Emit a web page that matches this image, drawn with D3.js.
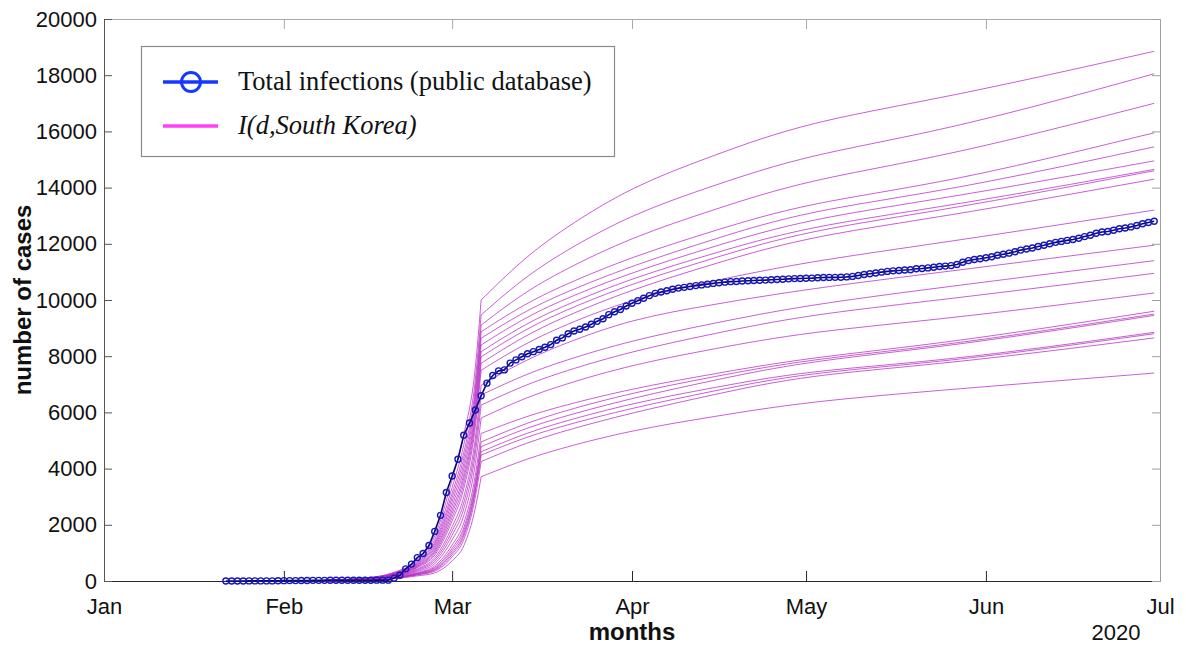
<!DOCTYPE html>
<html>
<head>
<meta charset="utf-8">
<script src="https://cdn.jsdelivr.net/npm/d3@7"></script>
<style>
  html, body { margin: 0; padding: 0; background: #fff; }
  svg { display: block; }
</style>
</head>
<body>
<svg id="chart" width="1186" height="645"></svg>
<script>
// Daily cumulative confirmed cases, South Korea, starting 2020-01-22
const casesStart = "2020-01-22";
const totalInfections = [
  1, 1, 2, 2, 3, 4, 4, 4, 4, 11,
  12, 15, 15, 16, 19, 23, 24, 24, 25, 27, 28, 28, 28, 28, 28, 29, 30, 31, 31,
  104, 204, 433, 602, 833, 977, 1261, 1766, 2337, 3150,
  3736, 4335, 5186, 5621, 6088, 6593, 7041, 7314, 7478, 7513, 7755, 7869, 7979, 8086, 8162,
  8236, 8320, 8413, 8565, 8652, 8799, 8897, 8961, 9037, 9137, 9241, 9332, 9478, 9583, 9661, 9786,
  9887, 9976, 10062, 10156, 10237, 10284, 10331, 10384, 10423, 10450, 10480, 10512, 10537, 10564, 10591,
  10613, 10635, 10653, 10661, 10674, 10683, 10694, 10702, 10708, 10718, 10728, 10738, 10752, 10761, 10765,
  10774, 10780, 10793, 10801, 10804, 10806, 10810, 10822, 10840, 10874, 10909, 10936, 10962, 10991, 11018,
  11037, 11050, 11065, 11078, 11110, 11122, 11142, 11165, 11190, 11206, 11225, 11265, 11344, 11402, 11441, 11468,
  11503, 11541, 11590, 11629, 11668, 11719, 11776, 11814, 11852, 11902, 11947, 12003, 12051, 12085, 12121,
  12155, 12198, 12257, 12306, 12373, 12421, 12438, 12484, 12535, 12563, 12602, 12653, 12715, 12757, 12800
];

// Model trajectories I(d, South Korea): sample dates and one value list per run
const modelDates = [
  "2020-02-08", "2020-02-15", "2020-02-20", "2020-02-24", "2020-02-27", "2020-03-01",
  "2020-03-03", "2020-03-05", "2020-03-06", "2020-03-13", "2020-03-20", "2020-04-01",
  "2020-04-15", "2020-05-01", "2020-05-26", "2020-06-30"
];
const breakDate = "2020-03-06";
const modelRuns = [
  [30, 110, 310, 750, 1600, 3600, 5200, 7600, 10000, 11420, 12510, 14050, 15140, 16330, 17230, 18850],
  [28, 103, 289, 698, 1476, 3331, 4838, 7169, 9470, 10730, 11700, 13060, 14070, 15160, 16060, 18050],
  [26, 97, 274, 660, 1383, 3128, 4570, 6869, 9110, 10210, 11050, 12240, 13210, 14270, 15140, 17000],
  [25, 94, 263, 631, 1310, 2972, 4369, 6661, 8870, 9800, 10520, 11540, 12460, 13450, 14190, 15950],
  [24, 90, 252, 603, 1241, 2824, 4177, 6463, 8640, 9540, 10240, 11220, 12160, 13170, 13900, 15450],
  [23, 86, 242, 575, 1172, 2675, 3984, 6258, 8400, 9310, 10010, 10990, 11900, 12880, 13650, 14950],
  [22, 82, 231, 548, 1105, 2531, 3795, 6055, 8160, 9080, 9780, 10780, 11660, 12610, 13350, 14650],
  [21, 79, 222, 526, 1048, 2409, 3639, 5897, 7980, 8890, 9600, 10590, 11490, 12470, 13230, 14600],
  [20, 76, 212, 501, 986, 2275, 3463, 5704, 7750, 8670, 9380, 10380, 11280, 12250, 13000, 14300],
  [19, 72, 202, 475, 923, 2140, 3283, 5498, 7500, 8390, 9080, 10050, 10680, 11360, 12080, 13200],
  [17, 66, 185, 432, 829, 1931, 2987, 5088, 6970, 7800, 8430, 9330, 9840, 10390, 11030, 11950],
  [16, 62, 172, 402, 761, 1779, 2776, 4813, 6620, 7300, 7830, 8570, 9170, 9820, 10490, 11400],
  [15, 58, 160, 372, 694, 1630, 2568, 4532, 6260, 6930, 7450, 8180, 8800, 9470, 10040, 10950],
  [14, 52, 146, 337, 619, 1462, 2326, 4182, 5800, 6470, 6980, 7700, 8260, 8860, 9340, 10250],
  [12, 47, 130, 298, 539, 1280, 2057, 3770, 5250, 5810, 6240, 6850, 7370, 7940, 8480, 9600],
  [11, 43, 120, 275, 488, 1166, 1895, 3539, 4950, 5560, 6040, 6700, 7270, 7880, 8400, 9500],
  [11, 41, 114, 259, 451, 1086, 1786, 3403, 4780, 5390, 5850, 6510, 7140, 7820, 8350, 9450],
  [10, 39, 107, 243, 415, 1007, 1677, 3261, 4600, 5210, 5670, 6330, 6880, 7480, 7850, 8850],
  [9, 37, 103, 231, 386, 943, 1592, 3163, 4480, 5070, 5520, 6160, 6760, 7420, 7800, 8800],
  [9, 35, 95, 214, 349, 860, 1471, 2988, 4250, 4860, 5330, 5990, 6630, 7330, 7740, 8650],
  [7, 30, 82, 182, 289, 720, 1250, 2597, 3710, 4290, 4740, 5370, 5850, 6380, 6820, 7400]
];

const yTicks = [0, 2000, 4000, 6000, 8000, 10000, 12000, 14000, 16000, 18000, 20000];
const monthTicks = ["2020-01-01", "2020-02-01", "2020-03-01", "2020-04-01", "2020-05-01", "2020-06-01", "2020-07-01"];
const legendLabels = ["Total infections (public database)", "I(d,South Korea)"];

const parse = d3.timeParse("%Y-%m-%d");
const svg = d3.select("#chart");
const plot = { left: 104, right: 1160, top: 19, bottom: 581 };

const x = d3.scaleTime()
  .domain([parse("2020-01-01"), parse("2020-07-01")])
  .range([plot.left, plot.right]);
const y = d3.scaleLinear()
  .domain([0, 20000])
  .range([plot.bottom, plot.top]);

const sansFont = "'Liberation Sans', Arial, Helvetica, sans-serif";
const serifFont = "'Liberation Serif', 'Times New Roman', serif";

// Axes frame: bottom and left carry labels, top and right only mirror the ticks
const monthDates = monthTicks.map(parse);

const gBottom = svg.append("g")
  .attr("transform", `translate(0,${plot.bottom})`)
  .call(d3.axisBottom(x).tickValues(monthDates).tickFormat(d3.timeFormat("%b"))
    .tickSizeInner(-10).tickSizeOuter(0).tickPadding(17));
gBottom.select(".domain").attr("stroke", "#2a2a2a");
gBottom.selectAll(".tick line").attr("stroke", "#2a2a2a");

const gTop = svg.append("g")
  .attr("transform", `translate(0,${plot.top})`)
  .call(d3.axisTop(x).tickValues(monthDates).tickFormat("")
    .tickSizeInner(-10).tickSizeOuter(0));
gTop.select(".domain").attr("stroke", "#a8a8a8");
gTop.selectAll(".tick line").attr("stroke", "#a8a8a8");

const gLeft = svg.append("g")
  .attr("transform", `translate(${plot.left},0)`)
  .call(d3.axisLeft(y).tickValues(yTicks).tickFormat(d3.format("d"))
    .tickSizeInner(-8).tickSizeOuter(0).tickPadding(7));
gLeft.select(".domain").attr("stroke", "#555");
gLeft.selectAll(".tick line").attr("stroke", "#555");

const gRight = svg.append("g")
  .attr("transform", `translate(${plot.right},0)`)
  .call(d3.axisRight(y).tickValues(yTicks).tickFormat("")
    .tickSizeInner(-8).tickSizeOuter(0));
gRight.select(".domain").attr("stroke", "#a0a0a0");
gRight.selectAll(".tick line").attr("stroke", "#a0a0a0");

svg.selectAll(".tick text")
  .attr("font-family", sansFont)
  .attr("font-size", 22)
  .attr("fill", "#111");

// Model runs: steep rising branch up to the break date, then a smooth slower branch
const risingLine = d3.line()
  .x(d => x(d.date))
  .y(d => y(d.value))
  .curve(d3.curveMonotoneX);
const laterLine = d3.line()
  .x(d => x(d.date))
  .y(d => y(d.value))
  .curve(d3.curveBasis);

const breakTime = +parse(breakDate);
const gRuns = svg.append("g").attr("fill", "none");
modelRuns.forEach(run => {
  const pts = run.map((v, i) => ({ date: parse(modelDates[i]), value: v }));
  const rising = pts.filter(p => +p.date <= breakTime);
  const after = pts.filter(p => +p.date >= breakTime);
  [[rising, risingLine], [after, laterLine]].forEach(([seg, gen]) => {
    gRuns.append("path")
      .attr("d", gen(seg))
      .attr("stroke", "#b52ac4")
      .attr("stroke-opacity", 0.75)
      .attr("stroke-width", 1);
  });
});

// Reported totals: line plus open circle markers
const start = parse(casesStart);
const reported = totalInfections.map((v, i) => ({ date: d3.timeDay.offset(start, i), value: v }));

svg.append("path")
  .datum(reported)
  .attr("fill", "none")
  .attr("stroke", "#06067a")
  .attr("stroke-width", 1.6)
  .attr("d", d3.line().x(d => x(d.date)).y(d => y(d.value)));

svg.append("g")
  .selectAll("circle")
  .data(reported)
  .join("circle")
  .attr("cx", d => x(d.date))
  .attr("cy", d => y(d.value))
  .attr("r", 3)
  .attr("fill", "none")
  .attr("stroke", "#1818b8")
  .attr("stroke-width", 1.4);

// Axis titles
svg.append("text")
  .attr("x", (plot.left + plot.right) / 2)
  .attr("y", 640)
  .attr("text-anchor", "middle")
  .attr("font-family", sansFont)
  .attr("font-weight", "bold")
  .attr("font-size", 24)
  .attr("fill", "#111")
  .text("months");

svg.append("text")
  .attr("transform", `translate(31,${(plot.top + plot.bottom) / 2}) rotate(-90)`)
  .attr("text-anchor", "middle")
  .attr("font-family", sansFont)
  .attr("font-weight", "bold")
  .attr("font-size", 24)
  .attr("fill", "#111")
  .text("number of cases");

svg.append("text")
  .attr("x", 1116)
  .attr("y", 640)
  .attr("text-anchor", "middle")
  .attr("font-family", sansFont)
  .attr("font-size", 22)
  .attr("fill", "#111")
  .text("2020");

// Legend
const lg = svg.append("g");
lg.append("rect")
  .attr("x", 141.5).attr("y", 46.5)
  .attr("width", 473).attr("height", 110)
  .attr("fill", "#fff")
  .attr("stroke", "#8a8a8a")
  .attr("stroke-width", 1.2);

lg.append("line")
  .attr("x1", 163).attr("x2", 218).attr("y1", 82).attr("y2", 82)
  .attr("stroke", "#1438ff").attr("stroke-width", 3.5);
lg.append("circle")
  .attr("cx", 191).attr("cy", 82).attr("r", 9.5)
  .attr("fill", "none").attr("stroke", "#1438ff").attr("stroke-width", 3);
lg.append("text")
  .attr("x", 238).attr("y", 90)
  .attr("font-family", serifFont).attr("font-size", 26.5).attr("fill", "#111")
  .text(legendLabels[0]);

lg.append("line")
  .attr("x1", 163).attr("x2", 218).attr("y1", 126).attr("y2", 126)
  .attr("stroke", "#ff40f5").attr("stroke-width", 3.5);
lg.append("text")
  .attr("x", 238).attr("y", 134)
  .attr("font-family", serifFont).attr("font-style", "italic")
  .attr("font-size", 26.5).attr("fill", "#111")
  .text(legendLabels[1]);
</script>
</body>
</html>
